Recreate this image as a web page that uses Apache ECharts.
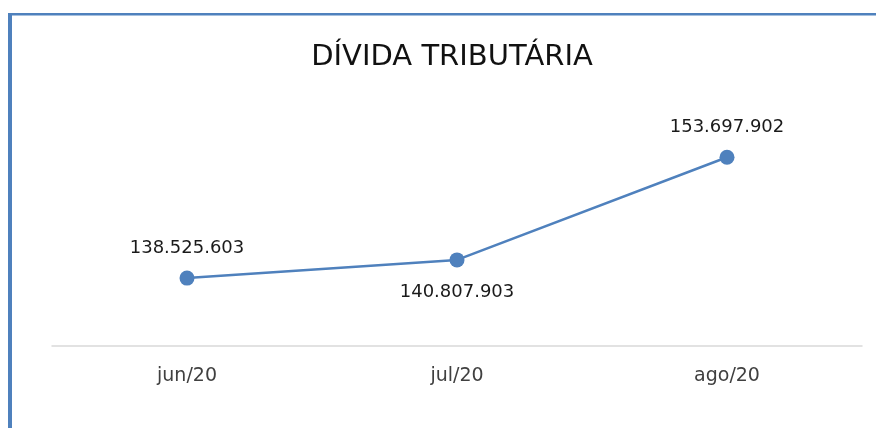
<!DOCTYPE html>
<html>
<head>
<meta charset="utf-8">
<script src="https://cdn.jsdelivr.net/npm/echarts@6/dist/echarts.min.js"></script>
<style>
  html, body { margin: 0; padding: 0; background: #fff; }
  #chart { width: 876px; height: 428px; }
</style>
</head>
<body>
<div id="chart"></div>
<script>
// dados
const meses = ['jun/20', 'jul/20', 'ago/20'];
const divida = [138525603, 140807903, 153697902];
const posRotulo = ['top', 'bottom', 'top'];

function fmt(v) {
  return String(v).replace(/\B(?=(\d{3})+(?!\d))/g, '.');
}

const chart = echarts.init(document.getElementById('chart'));
chart.setOption({
  animation: false,
  textStyle: { fontFamily: '"DejaVu Sans", sans-serif' },
  title: {
    text: 'DÍVIDA TRIBUTÁRIA',
    left: 447,
    textAlign: 'center',
    top: 38,
    textStyle: { fontSize: 29, fontWeight: 'normal', color: '#111' }
  },
  graphic: [
    { type: 'rect', shape: { x: 8, y: 13, width: 4, height: 415 }, style: { fill: '#4f81bd' } },
    { type: 'rect', shape: { x: 8, y: 13, width: 868, height: 2.5 }, style: { fill: '#4f81bd' } }
  ],
  grid: { left: 52, right: 14, top: 107, bottom: 82 },
  xAxis: {
    type: 'category',
    data: meses,
    axisLine: { lineStyle: { color: '#d9d9d9', width: 1.5 } },
    axisTick: { show: false },
    axisLabel: { color: '#404040', fontSize: 19, margin: 21 }
  },
  yAxis: {
    type: 'value',
    min: 130000000,
    max: 160000000,
    show: false,
    splitLine: { show: false }
  },
  series: [{
    type: 'line',
    data: divida.map((v, i) => ({
      value: v,
      label: { position: posRotulo[i], distance: posRotulo[i] === 'bottom' ? 16 : 13 }
    })),
    symbol: 'circle',
    symbolSize: 15,
    lineStyle: { color: '#4f81bd', width: 2.5 },
    itemStyle: { color: '#4f81bd' },
    label: {
      show: true,
      fontSize: 18,
      color: '#1a1a1a',
      formatter: p => fmt(p.value)
    }
  }]
});
</script>
</body>
</html>
